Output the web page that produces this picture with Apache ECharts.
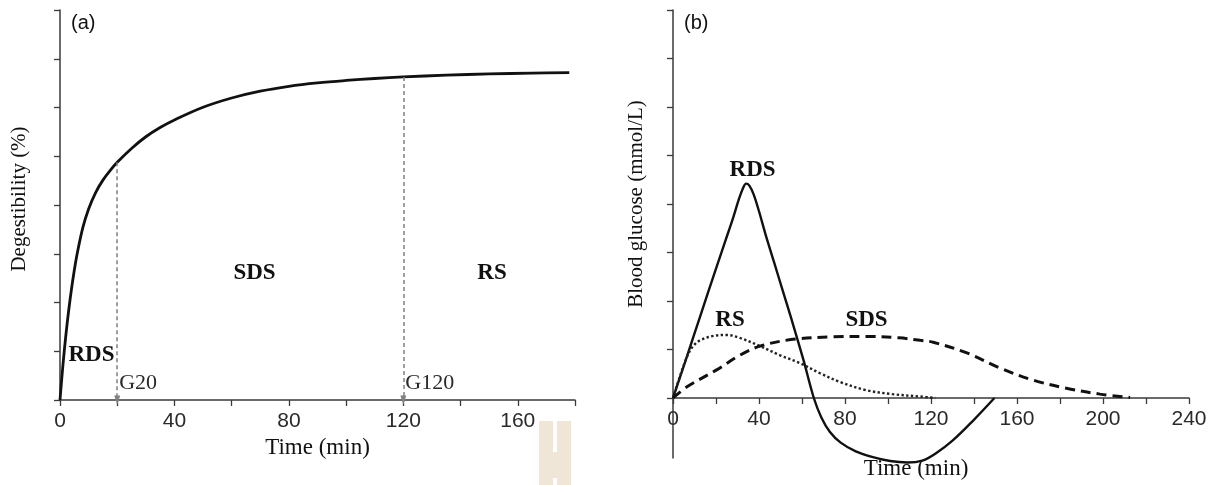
<!DOCTYPE html>
<html>
<head>
<meta charset="utf-8">
<title>Starch digestibility and blood glucose</title>
<script src="https://cdn.jsdelivr.net/npm/echarts@6/dist/echarts.min.js"></script>
<style>
  html, body { margin: 0; padding: 0; background: #fff; }
  #chart { width: 1221px; height: 485px; }
</style>
</head>
<body>
<div id="chart"></div>
<script>
// (a) in-vitro digestibility curve
const digestTime  = [0, 1, 2, 3, 4, 5, 6, 8, 10, 12.5, 15, 17.5, 20, 25, 30, 35, 40, 50, 60, 70, 80, 90, 100, 110, 120, 135, 150, 165, 178];
const digestValue = [0, 7, 13, 18.2, 22.7, 26.6, 30, 35.4, 39.2, 42.6, 45.1, 47.05, 48.75, 51.6, 54, 55.9, 57.45, 60.05, 61.95, 63.35, 64.35, 65.05, 65.55, 65.95, 66.27, 66.63, 66.88, 67.06, 67.15];
const guideTimes  = [20, 120];
const guideLabels = ['G20', 'G120'];
const fractionLabelsA = [
  { name: 'RDS', t: 11, v: 9.2 },
  { name: 'SDS', t: 68, v: 26 },
  { name: 'RS',  t: 151, v: 26 }
];

// (b) blood glucose response
const rdsTime    = [0, 6.5, 12.6, 19.5, 24.2, 28, 30.5, 32.5, 34, 35.5, 37.5, 40, 43, 47, 51, 55, 60.7, 65.5, 69, 73, 78, 85, 93, 101, 109, 116, 122, 130, 139.5, 149.5];
const rdsGlucose = [0, 0.86, 1.68, 2.6, 3.22, 3.72, 4.08, 4.32, 4.42, 4.38, 4.2, 3.85, 3.38, 2.8, 2.22, 1.64, 0.78, 0, -0.4, -0.7, -0.92, -1.1, -1.22, -1.3, -1.33, -1.29, -1.15, -0.88, -0.47, 0];
const rsTime     = [0, 3, 6.5, 9, 12.6, 18.8, 25, 31, 40.5, 49.8, 59, 68.4, 77.7, 90, 102, 115, 122];
const rsGlucose  = [0, 0.42, 0.85, 1.05, 1.19, 1.28, 1.3, 1.24, 1.07, 0.88, 0.72, 0.51, 0.33, 0.16, 0.08, 0.03, 0];
const sdsTime    = [0, 6.5, 20.3, 31, 40.5, 55.8, 74.4, 90, 105, 115, 121, 136.7, 152, 167.4, 183, 198.6, 212.6];
const sdsGlucose = [0, 0.23, 0.58, 0.88, 1.07, 1.21, 1.26, 1.27, 1.24, 1.19, 1.15, 0.93, 0.62, 0.37, 0.2, 0.08, 0.01];
const fractionLabelsB = [
  { name: 'RDS', t: 37, v: 4.7 },
  { name: 'RS',  t: 26.5, v: 1.6 },
  { name: 'SDS', t: 90, v: 1.6 }
];

// axis ticks
const xLabelStep = 40;

const zip = (xs, ys) => xs.map((x, i) => [x, ys[i]]);
const valueAt = (t) => digestValue[digestTime.indexOf(t)];

const SERIF = '"Liberation Serif", "Times New Roman", serif';
const SANS = '"Liberation Sans", Arial, sans-serif';
const INK = '#111';
const AXIS = '#3a3a3a';

const axisBase = {
  axisLine: { onZero: false, lineStyle: { color: AXIS, width: 1.5 } },
  axisTick: { length: 6, lineStyle: { color: AXIS, width: 1.3 } },
  splitLine: { show: false }
};

const xLabel = {
  color: '#2a2a2a', fontFamily: SANS, fontSize: 21, margin: 11,
  formatter: (v) => (v % xLabelStep === 0 ? String(v) : '')
};

// text placed at data coordinates through the grid's own scales
const textSeries = (items, gridIdx, font) => ({
  type: 'custom',
  xAxisIndex: gridIdx, yAxisIndex: gridIdx,
  silent: true,
  clip: false,
  data: items.map((d) => [d.t, d.v]),
  renderItem: (params, api) => {
    const p = api.coord([api.value(0), api.value(1)]);
    const item = items[params.dataIndex];
    return {
      type: 'text',
      x: p[0], y: p[1],
      style: Object.assign({
        text: item.name, fill: INK,
        verticalAlign: 'middle'
      }, font)
    };
  }
});

const boldFont = { font: 'bold 23px ' + SERIF, align: 'center' };
const plainFont = { font: '22px ' + SERIF, align: 'left', fill: '#2a2a2a' };

const lineBase = (xi, yi) => ({
  type: 'line', xAxisIndex: xi, yAxisIndex: yi,
  smooth: 0.35, clip: false,
  showSymbol: false, symbol: 'none'
});

const option = {
  backgroundColor: '#fff',
  animation: false,
  title: [
    { text: '(a)', left: 71, top: 13, padding: 0, textStyle: { fontFamily: SANS, fontSize: 20, fontWeight: 'normal', color: INK } },
    { text: '(b)', left: 684, top: 13, padding: 0, textStyle: { fontFamily: SANS, fontSize: 20, fontWeight: 'normal', color: INK } }
  ],
  grid: [
    { left: 60, right: 646, top: 10, bottom: 85, outerBoundsMode: 'none', containLabel: false },
    { left: 673, right: 32, top: 10, bottom: 87, outerBoundsMode: 'none', containLabel: false },
    // lower stretch of the glucose axis, below the baseline
    { left: 673, right: 32, top: 398, bottom: 27, outerBoundsMode: 'none', containLabel: false }
  ],
  xAxis: [
    Object.assign({}, axisBase, {
      gridIndex: 0, type: 'value', min: 0, max: 180, interval: 20,
      axisLabel: xLabel,
      name: 'Time (min)', nameLocation: 'middle', nameGap: 35,
      nameTextStyle: { fontFamily: SERIF, fontSize: 23, color: INK }
    }),
    Object.assign({}, axisBase, {
      gridIndex: 1, type: 'value', min: 0, max: 240, interval: 20,
      axisLabel: xLabel,
      name: 'Time (min)', nameLocation: 'middle', nameGap: 59,
      nameTextStyle: { fontFamily: SERIF, fontSize: 23, color: INK, padding: [0, 30, 0, 0] }
    }),
    { gridIndex: 2, type: 'value', min: 0, max: 240, show: false }
  ],
  yAxis: [
    Object.assign({}, axisBase, {
      gridIndex: 0, type: 'value', min: 0, max: 80, interval: 10,
      axisLabel: { show: false },
      name: 'Degestibility (%)', nameLocation: 'middle', nameGap: 30,
      nameTextStyle: { fontFamily: SERIF, fontSize: 21, color: INK, padding: [0, 0, 0, 12] }
    }),
    Object.assign({}, axisBase, {
      gridIndex: 1, type: 'value', min: 0, max: 8, interval: 1,
      axisLabel: { show: false },
      name: 'Blood glucose (mmol/L)', nameLocation: 'middle', nameGap: 26,
      nameTextStyle: { fontFamily: SERIF, fontSize: 21, color: INK }
    }),
    {
      gridIndex: 2, type: 'value', min: 0, max: 1,
      axisLine: { show: true, onZero: false, lineStyle: { color: AXIS, width: 1.5 } },
      axisTick: { show: false }, axisLabel: { show: false }, splitLine: { show: false }
    }
  ],
  series: [
    Object.assign(lineBase(0, 0), {
      name: 'Digestibility',
      data: zip(digestTime, digestValue),
      lineStyle: { color: '#111', width: 2.8 },
      markLine: {
        silent: true,
        symbol: ['none', 'triangle'],
        symbolSize: [6, 9],
        label: { show: false },
        lineStyle: { color: '#808080', width: 1.5, type: [4, 3] },
        data: guideTimes.map((t) => [{ coord: [t, valueAt(t)] }, { coord: [t, 0] }])
      }
    }),
    textSeries(guideTimes.map((t, i) => ({ name: guideLabels[i], t: t + 0.7, v: 3.5 })), 0, plainFont),
    textSeries(fractionLabelsA, 0, boldFont),
    Object.assign(lineBase(1, 1), {
      name: 'RDS',
      data: zip(rdsTime, rdsGlucose),
      lineStyle: { color: '#111', width: 2.4 }
    }),
    Object.assign(lineBase(1, 1), {
      name: 'RS',
      data: zip(rsTime, rsGlucose),
      lineStyle: { color: '#222', width: 2.4, type: [2.4, 2.4] }
    }),
    Object.assign(lineBase(1, 1), {
      name: 'SDS',
      data: zip(sdsTime, sdsGlucose),
      lineStyle: { color: '#111', width: 3, type: [10, 6] }
    }),
    textSeries(fractionLabelsB, 1, boldFont)
  ],
  graphic: [
    // beige notched block below the left time axis
    { type: 'rect', shape: { x: 539, y: 421, width: 14, height: 64 }, style: { fill: '#efe6d8' }, silent: true },
    { type: 'rect', shape: { x: 557, y: 421, width: 14, height: 64 }, style: { fill: '#efe6d8' }, silent: true },
    { type: 'rect', shape: { x: 553, y: 452, width: 4, height: 26 }, style: { fill: '#efe6d8' }, silent: true }
  ]
};

const chart = echarts.init(document.getElementById('chart'), null, { renderer: 'canvas' });
chart.setOption(option);
</script>
</body>
</html>
